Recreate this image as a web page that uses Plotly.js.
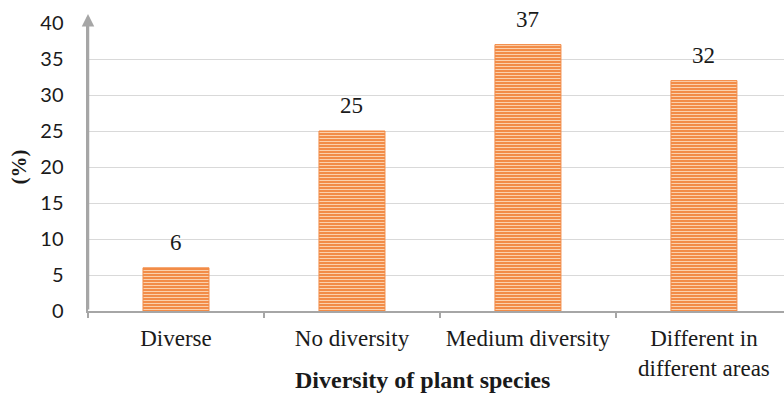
<!DOCTYPE html>
<html>
<head>
<meta charset="utf-8">
<script src="https://cdn.plot.ly/plotly-3.0.1.min.js"></script>
<style>
  html, body { margin: 0; padding: 0; background: #ffffff; }
  #chart { width: 784px; height: 398px; }
</style>
</head>
<body>
<div id="chart"></div>
<script>
// Share of respondents by perceived diversity of plant species
const categories = ['Diverse', 'No diversity', 'Medium diversity', 'Different in<br>different areas'];
const percentages = [6, 25, 37, 32];
const yTickValues = [0, 5, 10, 15, 20, 25, 30, 35, 40];

const serif = '"Liberation Serif", "Times New Roman", serif';
const sans = 'Lato, "Open Sans", sans-serif';
const axisGray = '#a6a6a6';
const barOrange = '#f28c48';

const bars = {
  type: 'bar',
  x: categories,
  y: percentages,
  width: 0.375,
  marker: {
    color: barOrange,
    line: { color: barOrange, width: 1 },
    pattern: {
      shape: '-',
      fgcolor: '#fbd1ad',
      bgcolor: barOrange,
      size: 3,
      solidity: 0.35
    }
  },
  hoverinfo: 'x+y'
};

// Value labels sitting above each bar
const valueLabels = categories.map((c, i) => ({
  x: c,
  y: percentages[i],
  xref: 'x',
  yref: 'y',
  text: String(percentages[i]),
  showarrow: false,
  yanchor: 'bottom',
  yshift: 11,
  font: { family: serif, size: 23, color: '#1a1a1a' }
}));

// Arrow capping the vertical axis
const axisArrow = {
  xref: 'paper',
  yref: 'paper',
  x: 0,
  y: 1.031,
  axref: 'pixel',
  ayref: 'pixel',
  ax: 0,
  ay: 297,
  text: '',
  showarrow: true,
  arrowhead: 2,
  arrowsize: 1,
  arrowwidth: 2.5,
  arrowcolor: axisGray
};

const xTitle = {
  xref: 'paper',
  yref: 'paper',
  x: 0.48,
  y: -0.24,
  yanchor: 'middle',
  text: '<b>Diversity of plant species</b>',
  showarrow: false,
  font: { family: serif, size: 24, color: '#1a1a1a' }
};

const layout = {
  width: 784,
  height: 398,
  margin: { l: 88, r: 0, t: 23, b: 87 },
  paper_bgcolor: '#ffffff',
  plot_bgcolor: '#ffffff',
  showlegend: false,
  xaxis: {
    type: 'category',
    range: [-0.5, 3.455],
    showline: true,
    linecolor: axisGray,
    linewidth: 2,
    ticks: 'outside',
    tickson: 'boundaries',
    ticklen: 5,
    tickwidth: 2,
    tickcolor: axisGray,
    showgrid: false,
    zeroline: false,
    ticklabelstandoff: 5,
    tickfont: { family: serif, size: 23, color: '#1a1a1a' }
  },
  yaxis: {
    range: [0, 40],
    tickvals: yTickValues,
    ticktext: yTickValues.map(String),
    showline: true,
    linecolor: axisGray,
    linewidth: 2.5,
    ticks: '',
    showgrid: true,
    gridcolor: '#d9d9d9',
    gridwidth: 1,
    zeroline: false,
    ticklabelstandoff: 18,
    tickfont: { family: sans, size: 20, color: '#1a1a1a' },
    title: {
      text: '<b>(%)</b>',
      standoff: 8,
      font: { family: serif, size: 21, color: '#1a1a1a' }
    }
  },
  annotations: valueLabels.concat([axisArrow, xTitle])
};

Plotly.newPlot('chart', [bars], layout, { displayModeBar: false, staticPlot: true });
</script>
</body>
</html>
